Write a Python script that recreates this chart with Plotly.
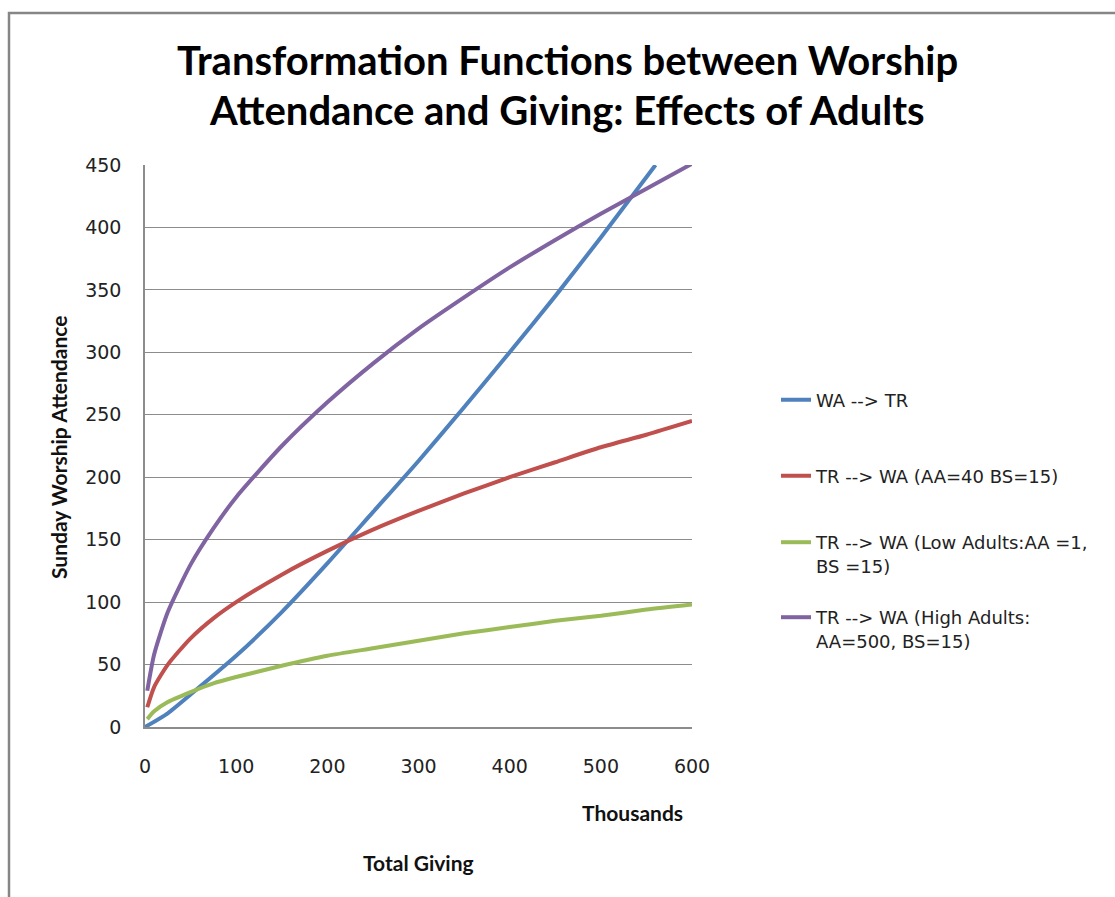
import plotly.graph_objects as go

# Total giving (thousands) and Sunday worship attendance for each transformation
wa_tr_x = [0, 25, 50, 100, 150, 200, 250, 300, 350, 400, 450, 500, 560]
wa_tr_y = [0, 11, 26, 57, 92, 131, 172, 213, 256, 300, 345, 392, 450]

tr_x = [2.5, 10, 25, 50, 75, 100, 150, 200, 250, 300, 350, 400, 450, 500, 550, 600]
tr_wa_mid = [15.8, 32, 50, 71, 87, 100, 122, 141, 158, 173, 187, 200, 212, 224, 234, 245]
tr_wa_low = [6.3, 12.6, 20, 28, 35, 40, 49, 57, 63, 69, 75, 80, 85, 89, 94, 98]
tr_wa_high = [29, 58, 92, 130, 159, 184, 225, 260, 291, 319, 344, 368, 390, 411, 431, 451]

series_names = [
    "WA --> TR",
    "TR --> WA (AA=40 BS=15)",
    "TR --> WA (Low Adults:AA =1,<br>BS =15)",
    "TR --> WA (High Adults:<br>AA=500, BS=15)",
]
series_colors = ["#4F81BD", "#C0504D", "#9BBB59", "#8064A2"]

y_ticks = [0, 50, 100, 150, 200, 250, 300, 350, 400, 450]
x_ticks = [0, 100, 200, 300, 400, 500, 600]

W, H = 1115, 897
L, R, T, B = 145, 692, 165, 727  # plot area in pixels

fig = go.Figure()
data = [
    (wa_tr_x, wa_tr_y),
    (tr_x, tr_wa_mid),
    (tr_x, tr_wa_low),
    (tr_x, tr_wa_high),
]
legend_rows = [400, 476, 554, 629]
for i, ((xs, ys), name, color) in enumerate(zip(data, series_names, series_colors)):
    fig.add_trace(go.Scatter(
        x=xs, y=ys, name=name, mode="lines",
        line=dict(color=color, width=4, shape="spline", smoothing=0.6),
        legend="legend" if i == 0 else f"legend{i + 1}",
    ))

legend_common = dict(
    xref="container", yref="container",
    x=776 / W, xanchor="left", yanchor="middle",
    font=dict(family="DejaVu Sans", size=18, color="#222222"),
    bgcolor="rgba(0,0,0,0)", borderwidth=0, valign="top",
)
layout_legends = {}
for i, row in enumerate(legend_rows):
    key = "legend" if i == 0 else f"legend{i + 1}"
    layout_legends[key] = dict(legend_common, y=1 - row / H)

axis_font = dict(family="DejaVu Sans", size=19, color="#222222")
label_font = dict(family="Lato", size=21, color="#111111", weight="bold")

fig.update_layout(
    width=W, height=H,
    margin=dict(l=L, r=W - R, t=T, b=H - B),
    paper_bgcolor="white", plot_bgcolor="white",
    showlegend=True,
    xaxis=dict(
        range=[0, 600], tickvals=x_ticks, ticktext=[str(v) for v in x_ticks],
        showgrid=False, zeroline=False, showline=True, linecolor="#8c8c8c",
        linewidth=1.5, tickfont=axis_font, ticks="", ticklabelstandoff=21,
    ),
    yaxis=dict(
        range=[0, 450], tickvals=y_ticks, ticktext=[str(v) for v in y_ticks],
        showgrid=True, gridcolor="#8c8c8c", gridwidth=1, zeroline=False,
        showline=True, linecolor="#8c8c8c", linewidth=1.5,
        tickfont=axis_font, ticks="", ticklabelstandoff=18,
    ),
    **layout_legends,
)

title_font = dict(family="Lato", size=40, color="#000000", weight="bold")
fig.add_annotation(text="Transformation Functions between Worship",
                   xref="paper", yref="paper", x=(567 - L) / (R - L), y=(B - 60) / (B - T),
                   showarrow=False, font=title_font, xanchor="center", yanchor="middle")
fig.add_annotation(text="Attendance and Giving: Effects of Adults",
                   xref="paper", yref="paper", x=(567 - L) / (R - L), y=(B - 110) / (B - T),
                   showarrow=False, font=title_font, xanchor="center", yanchor="middle")
fig.add_annotation(text="Sunday Worship Attendance", textangle=-90,
                   xref="paper", yref="paper", x=(58 - L) / (R - L), y=(B - 448) / (B - T),
                   showarrow=False, font=label_font, xanchor="center", yanchor="middle")
fig.add_annotation(text="Thousands",
                   xref="paper", yref="paper", x=(632 - L) / (R - L), y=(B - 812) / (B - T),
                   showarrow=False, font=label_font, xanchor="center", yanchor="middle")
fig.add_annotation(text="Total Giving",
                   xref="paper", yref="paper", x=(418 - L) / (R - L), y=(B - 862) / (B - T),
                   showarrow=False, font=label_font, xanchor="center", yanchor="middle")

# chart frame
fig.add_shape(type="rect", xref="paper", yref="paper",
              x0=(9 - L) / (R - L), x1=(1125 - L) / (R - L),
              y0=(B - 910) / (B - T), y1=(B - 13) / (B - T),
              line=dict(color="#868686", width=2.5), fillcolor="rgba(0,0,0,0)", layer="below")

fig.write_html("out.html")
